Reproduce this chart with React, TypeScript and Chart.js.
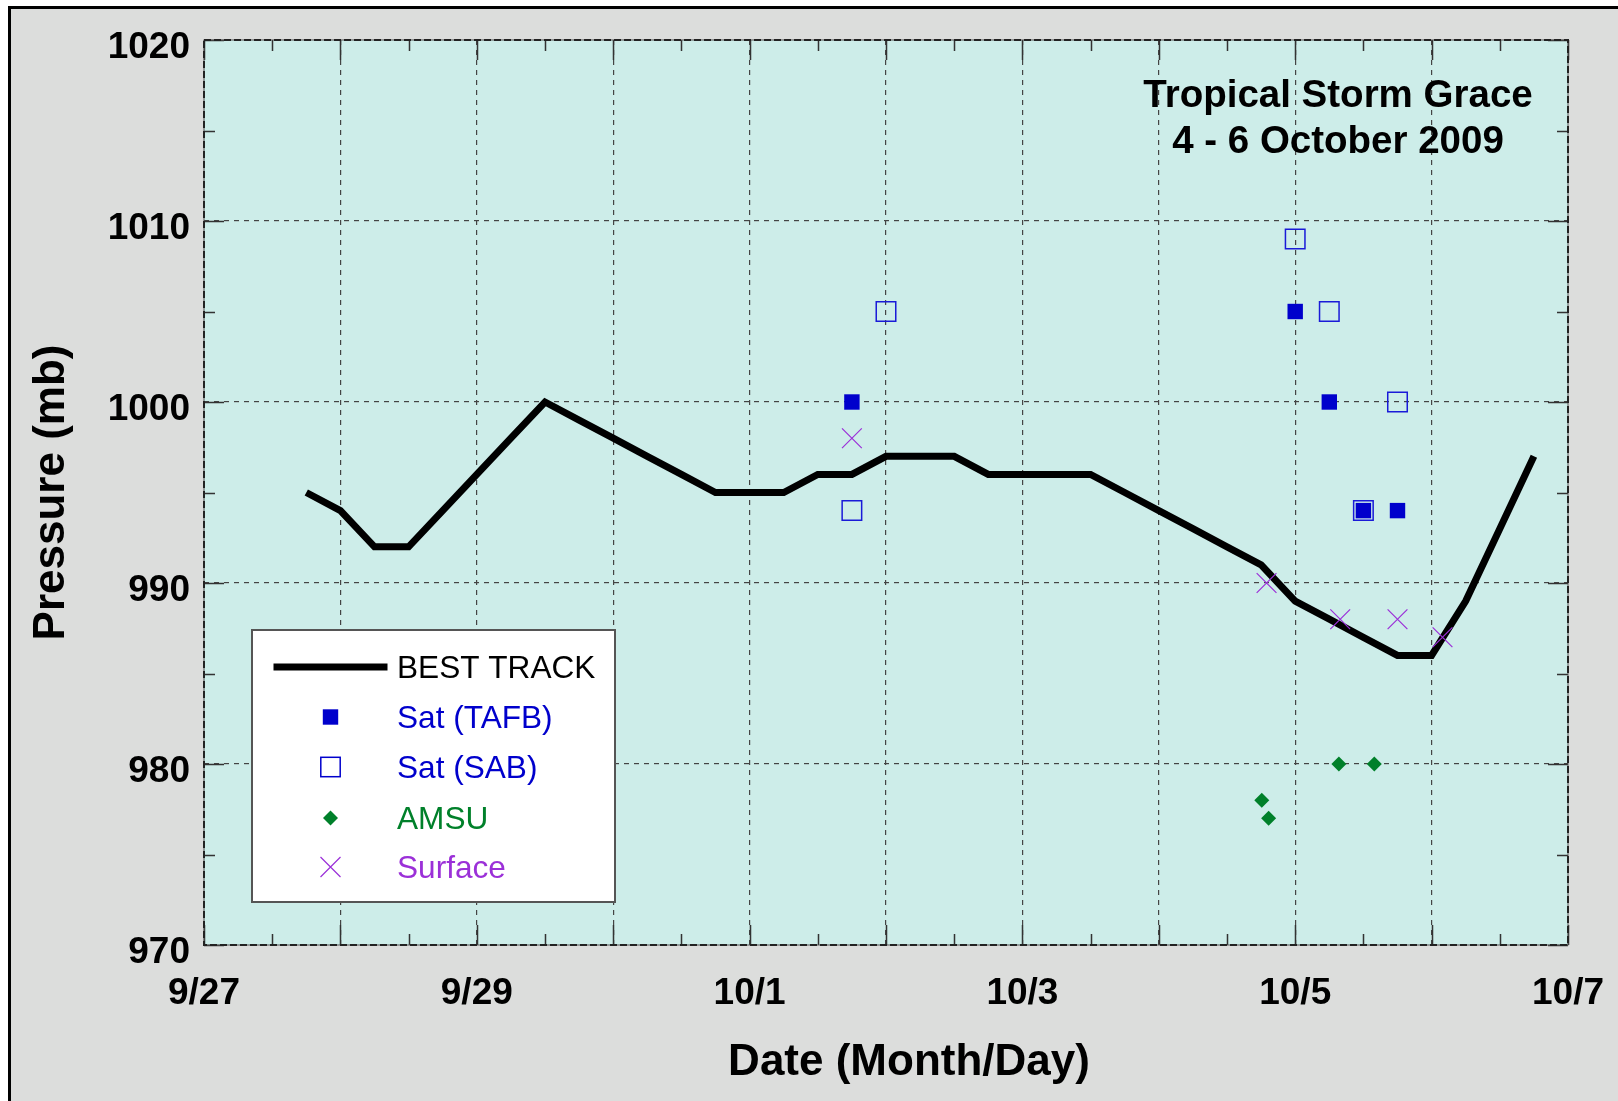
import React, { useEffect, useRef } from 'react';
import { Chart, registerables } from 'chart.js';

Chart.register(...registerables);

const FONT = "'Liberation Sans', Arial, Helvetica, sans-serif";

// x values are days after 9/27 00 UTC
const bestTrackDays = [0.75, 1.0, 1.25, 1.5, 1.75, 2.0, 2.25, 2.5, 2.75, 3.0, 3.25, 3.5, 3.75, 4.0, 4.25, 4.5, 4.75, 5.0, 5.25, 5.5, 5.75, 6.0, 6.25, 6.5, 6.75, 7.0, 7.25, 7.5, 7.75, 8.0, 8.25, 8.5, 8.75, 9.0, 9.25, 9.5, 9.75];
const bestTrackPres = [995, 994, 992, 992, 994, 996, 998, 1000, 999, 998, 997, 996, 995, 995, 995, 996, 996, 997, 997, 997, 996, 996, 996, 996, 995, 994, 993, 992, 991, 989, 988, 987, 986, 986, 989, 993, 997];

const tafbDays = [4.75, 8.0, 8.25, 8.5, 8.75];
const tafbPres = [1000, 1005, 1000, 994, 994];

const sabDays = [4.75, 5.0, 8.0, 8.25, 8.5, 8.75];
const sabPres = [994, 1005, 1009, 1005, 994, 1000];

const amsuDays = [7.755, 7.805, 8.32, 8.58];
const amsuPres = [978, 977, 980, 980];

const surfaceDays = [4.75, 7.79, 8.33, 8.75, 9.08];
const surfacePres = [998, 990, 988, 988, 987];

const xTickLabels = ['9/27', '', '9/29', '', '10/1', '', '10/3', '', '10/5', '', '10/7'];
const xMin = 0;
const xMax = 10;
const yMin = 970;
const yMax = 1020;
const yStep = 10;

const titleLines = ['Tropical Storm Grace', '4 - 6 October 2009'];
const xAxisTitle = 'Date (Month/Day)';
const yAxisTitle = 'Pressure (mb)';
const legendLabels = ['BEST TRACK', 'Sat (TAFB)', 'Sat (SAB)', 'AMSU', 'Surface'];

const BLUE = '#0000cc';
const GREEN = '#00802a';
const PURPLE = '#9b30d8';

const toPoints = (xs: number[], ys: number[]) => xs.map((x, i) => ({ x, y: ys[i] }));

function drawMarker(ctx: CanvasRenderingContext2D, kind: string, x: number, y: number) {
  ctx.save();
  if (kind === 'line') {
    ctx.strokeStyle = '#000';
    ctx.lineWidth = 7;
    ctx.beginPath();
    ctx.moveTo(x - 57, y);
    ctx.lineTo(x + 57, y);
    ctx.stroke();
  } else if (kind === 'filled') {
    ctx.fillStyle = BLUE;
    ctx.fillRect(x - 7.7, y - 7.7, 15.4, 15.4);
  } else if (kind === 'open') {
    ctx.strokeStyle = BLUE;
    ctx.lineWidth = 1.5;
    ctx.strokeRect(x - 9.7, y - 9.7, 19.4, 19.4);
  } else if (kind === 'diamond') {
    ctx.fillStyle = GREEN;
    ctx.beginPath();
    ctx.moveTo(x - 7.5, y);
    ctx.lineTo(x, y - 7.5);
    ctx.lineTo(x + 7.5, y);
    ctx.lineTo(x, y + 7.5);
    ctx.closePath();
    ctx.fill();
  } else if (kind === 'cross') {
    ctx.strokeStyle = PURPLE;
    ctx.lineWidth = 1.2;
    ctx.beginPath();
    ctx.moveTo(x - 10, y - 10);
    ctx.lineTo(x + 10, y + 10);
    ctx.moveTo(x + 10, y - 10);
    ctx.lineTo(x - 10, y + 10);
    ctx.stroke();
  }
  ctx.restore();
}

const decorPlugin = {
  id: 'decor',
  beforeDraw(chart: any) {
    const { ctx, width, height, chartArea: a } = chart;
    ctx.save();
    ctx.fillStyle = '#ffffff';
    ctx.fillRect(0, 0, width, height);
    ctx.fillStyle = '#dcdddc';
    ctx.fillRect(9, 7, width, height);
    ctx.strokeStyle = '#000';
    ctx.lineWidth = 3;
    ctx.strokeRect(9.5, 7.5, width + 40, height + 40);
    ctx.fillStyle = '#cdede9';
    ctx.fillRect(a.left, a.top, a.right - a.left, a.bottom - a.top);
    ctx.restore();
  },
  afterDatasetsDraw(chart: any) {
    const { ctx, chartArea: a, scales } = chart;
    const xs = scales.x;
    const ys = scales.y;
    ctx.save();
    // tick marks on all four sides
    ctx.strokeStyle = '#333';
    ctx.lineWidth = 1.5;
    ctx.beginPath();
    for (let d = xMin; d <= xMax + 1e-9; d += 0.5) {
      const px = Math.round(xs.getPixelForValue(d)) + 0.5;
      const len = Math.abs(d - Math.round(d)) < 1e-6 ? 20 : 11;
      ctx.moveTo(px, a.bottom);
      ctx.lineTo(px, a.bottom - len);
      ctx.moveTo(px, a.top);
      ctx.lineTo(px, a.top + len);
    }
    for (let p = yMin; p <= yMax; p += yStep / 2) {
      const py = Math.round(ys.getPixelForValue(p)) + 0.5;
      const len = p % yStep === 0 ? 20 : 11;
      ctx.moveTo(a.left, py);
      ctx.lineTo(a.left + len, py);
      ctx.moveTo(a.right, py);
      ctx.lineTo(a.right - len, py);
    }
    ctx.stroke();
    // frame
    ctx.strokeStyle = '#555';
    ctx.lineWidth = 1;
    ctx.strokeRect(a.left, a.top, a.right - a.left, a.bottom - a.top);
    ctx.strokeStyle = '#222';
    ctx.lineWidth = 2;
    ctx.setLineDash([7, 3]);
    ctx.strokeRect(a.left, a.top, a.right - a.left, a.bottom - a.top);
    ctx.setLineDash([]);
    ctx.restore();
  },
  afterDraw(chart: any) {
    const { ctx } = chart;
    ctx.save();
    // title inside plot
    ctx.fillStyle = '#000';
    ctx.font = `bold 38.5px ${FONT}`;
    ctx.textAlign = 'center';
    ctx.textBaseline = 'alphabetic';
    ctx.fillText(titleLines[0], 1338, 107);
    ctx.fillText(titleLines[1], 1338, 153);
    // x axis title
    ctx.font = `bold 44px ${FONT}`;
    ctx.fillText(xAxisTitle, 909, 1075);
    // legend box
    const bx = 252, by = 630, bw = 363, bh = 272;
    ctx.fillStyle = '#ffffff';
    ctx.fillRect(bx, by, bw, bh);
    ctx.strokeStyle = '#555';
    ctx.lineWidth = 2;
    ctx.strokeRect(bx, by, bw, bh);
    const kinds = ['line', 'filled', 'open', 'diamond', 'cross'];
    const colors = ['#000', BLUE, BLUE, GREEN, PURPLE];
    const rowsY = [667, 717, 767, 818, 867];
    ctx.font = `31.6px ${FONT}`;
    ctx.textAlign = 'left';
    for (let i = 0; i < legendLabels.length; i++) {
      drawMarker(ctx, kinds[i], 330.5, rowsY[i]);
      ctx.fillStyle = colors[i];
      ctx.fillText(legendLabels[i], 397, rowsY[i] + 10.5);
    }
    ctx.restore();
  },
};

export default function App() {
  const ref = useRef<HTMLCanvasElement | null>(null);
  useEffect(() => {
    if (!ref.current) return;
    const chart = new Chart(ref.current, {
      type: 'scatter',
      data: {
        datasets: [
          {
            label: legendLabels[1],
            data: toPoints(tafbDays, tafbPres),
            pointStyle: 'rect',
            pointRadius: 10.9,
            backgroundColor: BLUE,
            borderColor: BLUE,
            borderWidth: 0,
            order: 1,
          },
          {
            label: legendLabels[2],
            data: toPoints(sabDays, sabPres),
            pointStyle: 'rect',
            pointRadius: 13.8,
            backgroundColor: 'rgba(0,0,0,0)',
            borderColor: '#1a1ad8',
            borderWidth: 1.5,
            order: 1,
          },
          {
            label: legendLabels[3],
            data: toPoints(amsuDays, amsuPres),
            pointStyle: 'rectRot',
            pointRadius: 7.5,
            backgroundColor: GREEN,
            borderColor: GREEN,
            borderWidth: 0,
            order: 1,
          },
          {
            label: legendLabels[4],
            data: toPoints(surfaceDays, surfacePres),
            pointStyle: 'crossRot',
            pointRadius: 14,
            backgroundColor: PURPLE,
            borderColor: PURPLE,
            borderWidth: 1.2,
            order: 1,
          },
          {
            label: legendLabels[0],
            data: toPoints(bestTrackDays, bestTrackPres),
            showLine: true,
            borderColor: '#000',
            borderWidth: 7,
            pointRadius: 0,
            tension: 0,
            fill: false,
            order: 5,
          } as any,
        ],
      },
      options: {
        responsive: false,
        maintainAspectRatio: false,
        animation: false,
        devicePixelRatio: 1,
        events: [],
        layout: { padding: { left: 0, top: 40, right: 50, bottom: 0 } },
        plugins: {
          legend: { display: false },
          title: { display: false },
          tooltip: { enabled: false },
        },
        scales: {
          x: {
            type: 'linear',
            position: 'bottom',
            min: xMin,
            max: xMax,
            afterFit: (s: any) => {
              s.height = 156;
              s.paddingLeft = 0;
              s.paddingRight = 0;
            },
            ticks: {
              stepSize: 1,
              autoSkip: false,
              maxRotation: 0,
              minRotation: 0,
              padding: 27,
              color: '#000',
              font: { family: FONT, size: 37, weight: 'bold' },
              callback: (v: any) => xTickLabels[Math.round(Number(v))] ?? '',
            },
            grid: {
              drawTicks: false,
              lineWidth: 1.2,
              color: (c: any) =>
                c.tick && (c.tick.value === xMin || c.tick.value === xMax) ? 'rgba(0,0,0,0)' : '#444',
            },
            border: { display: false, dash: [5, 5] },
          },
          y: {
            type: 'linear',
            position: 'left',
            min: yMin,
            max: yMax,
            afterFit: (s: any) => {
              s.width = 204;
              s.paddingTop = 0;
              s.paddingBottom = 0;
            },
            ticks: {
              stepSize: yStep,
              padding: 14,
              labelOffset: 8,
              color: '#000',
              font: { family: FONT, size: 37, weight: 'bold' },
              callback: (v: any) => String(v),
            },
            grid: {
              drawTicks: false,
              lineWidth: 1.2,
              color: (c: any) =>
                c.tick && (c.tick.value === yMin || c.tick.value === yMax) ? 'rgba(0,0,0,0)' : '#444',
            },
            border: { display: false, dash: [5, 5] },
            title: {
              display: true,
              text: yAxisTitle,
              color: '#000',
              font: { family: FONT, size: 44, weight: 'bold' },
              padding: { top: 25, bottom: 0 },
            },
          },
        },
      },
      plugins: [decorPlugin],
    } as any);
    return () => chart.destroy();
  }, []);
  return (
    <div style={{ position: 'fixed', left: 0, top: 0, width: 1618, height: 1101 }}>
      <canvas ref={ref} width={1618} height={1101} style={{ display: 'block', width: 1618, height: 1101 }} />
    </div>
  );
}
